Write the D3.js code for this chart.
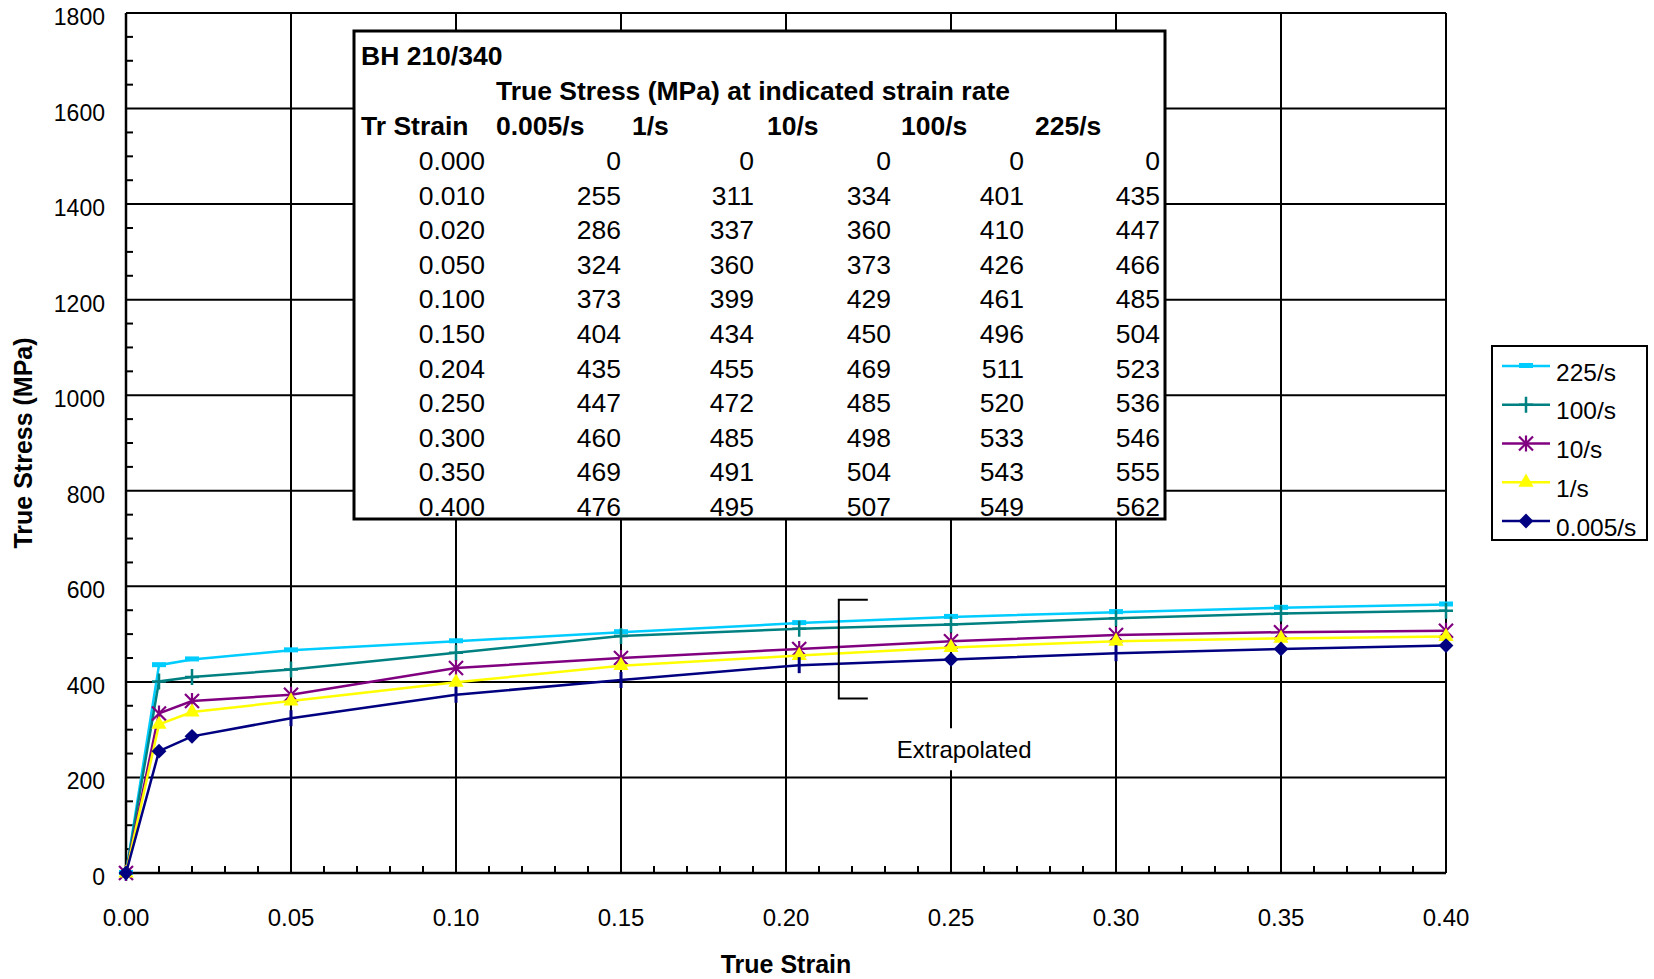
<!DOCTYPE html>
<html>
<head>
<meta charset="utf-8">
<script src="https://cdn.jsdelivr.net/npm/d3@7"></script>
<style>
  body { margin: 0; background: #fff; }
  svg { display: block; font-family: "Liberation Sans", Arial, sans-serif; }
</style>
</head>
<body>
<svg width="1654" height="979"></svg>
<script>
const strains = [0, 0.01, 0.02, 0.05, 0.1, 0.15, 0.204, 0.25, 0.3, 0.35, 0.4];
const rate0005 = [0, 255, 286, 324, 373, 404, 435, 447, 460, 469, 476];
const rate1 = [0, 311, 337, 360, 399, 434, 455, 472, 485, 491, 495];
const rate10 = [0, 334, 360, 373, 429, 450, 469, 485, 498, 504, 507];
const rate100 = [0, 401, 410, 426, 461, 496, 511, 520, 533, 543, 549];
const rate225 = [0, 435, 447, 466, 485, 504, 523, 536, 546, 555, 562];
const rateLabels = ["0.005/s", "1/s", "10/s", "100/s", "225/s"];
const xTicks = [0, 0.05, 0.1, 0.15, 0.2, 0.25, 0.3, 0.35, 0.4];
const yTicks = [0, 200, 400, 600, 800, 1000, 1200, 1400, 1600, 1800];
const tableTitle = "BH 210/340";
const tableSubtitle = "True Stress (MPa) at indicated strain rate";
const extrapolated = { strain: 0.216, low: 365, high: 572, label: "Extrapolated", labelStrain: 0.254, labelStress: 259 };

const svg = d3.select("svg");
const plotLeft = 126, plotRight = 1446, plotTop = 13, plotBottom = 873;

const x = d3.scaleLinear().domain([0, 0.4]).range([plotLeft, plotRight]);
const y = d3.scaleLinear().domain([0, 1800]).range([plotBottom, plotTop]);

// grid
svg.append("g").selectAll("line").data(yTicks.slice(1)).enter().append("line")
  .attr("x1", plotLeft).attr("x2", plotRight)
  .attr("y1", d => y(d)).attr("y2", d => y(d))
  .attr("stroke", "#000").attr("stroke-width", 2);
svg.append("g").selectAll("line").data(xTicks.slice(1)).enter().append("line")
  .attr("x1", d => x(d)).attr("x2", d => x(d))
  .attr("y1", plotTop).attr("y2", plotBottom)
  .attr("stroke", "#000").attr("stroke-width", 2);

// minor ticks
let yMinor = d3.range(50, 1800, 50).filter(v => v % 200 !== 0);
svg.append("g").selectAll("line").data(yMinor).enter().append("line")
  .attr("x1", plotLeft).attr("x2", plotLeft + 7)
  .attr("y1", d => y(d)).attr("y2", d => y(d))
  .attr("stroke", "#000").attr("stroke-width", 2);
let xMinor = d3.range(1, 40).filter(i => i % 5 !== 0).map(i => i / 100);
svg.append("g").selectAll("line").data(xMinor).enter().append("line")
  .attr("x1", d => x(d)).attr("x2", d => x(d))
  .attr("y1", plotBottom).attr("y2", plotBottom - 7)
  .attr("stroke", "#000").attr("stroke-width", 2);

// axis lines
svg.append("line").attr("x1", plotLeft).attr("x2", plotLeft).attr("y1", plotTop).attr("y2", plotBottom)
  .attr("stroke", "#000").attr("stroke-width", 2.5);
svg.append("line").attr("x1", plotLeft).attr("x2", plotRight).attr("y1", plotBottom).attr("y2", plotBottom)
  .attr("stroke", "#000").attr("stroke-width", 2.5);

// tick labels
svg.append("g").selectAll("text").data(yTicks).enter().append("text")
  .attr("x", 105).attr("y", d => y(d) + 4)
  .attr("text-anchor", "end").attr("dominant-baseline", "central")
  .attr("font-size", 23).text(d => d);
svg.append("g").selectAll("text").data(xTicks).enter().append("text")
  .attr("x", d => x(d)).attr("y", 917)
  .attr("text-anchor", "middle").attr("dominant-baseline", "central")
  .attr("font-size", 24).text(d3.format(".2f"));

// axis titles
svg.append("text").attr("x", (plotLeft + plotRight) / 2).attr("y", 964)
  .attr("text-anchor", "middle").attr("dominant-baseline", "central")
  .attr("font-size", 25).attr("font-weight", "bold").text("True Strain");
svg.append("text").attr("transform", `translate(23,${(plotTop + plotBottom) / 2}) rotate(-90)`)
  .attr("text-anchor", "middle").attr("dominant-baseline", "central")
  .attr("font-size", 25).attr("font-weight", "bold").text("True Stress (MPa)");

// series, drawn so the slowest rate ends up on top
const series = [
  { label: "225/s", values: rate225, color: "#00ccff", marker: "dash" },
  { label: "100/s", values: rate100, color: "#008080", marker: "plus" },
  { label: "10/s", values: rate10, color: "#800080", marker: "star" },
  { label: "1/s", values: rate1, color: "#ffff00", marker: "triangle" },
  { label: "0.005/s", values: rate0005, color: "#000080", marker: "diamond" }
];

// on some points the navy series shows only a bar instead of a diamond
const navyBars = new Set([3, 4, 5, 6, 8]);

function drawMarker(g, type, color, cx, cy) {
  if (type === "dash") {
    g.append("rect").attr("x", cx - 7).attr("y", cy - 3).attr("width", 14).attr("height", 5).attr("fill", color);
  } else if (type === "plus") {
    g.append("path").attr("d", `M${cx - 7},${cy}H${cx + 7}M${cx},${cy - 8}V${cy + 8}`)
      .attr("stroke", color).attr("stroke-width", 2.5);
  } else if (type === "star") {
    g.append("path").attr("d", `M${cx - 7},${cy - 7}L${cx + 7},${cy + 7}M${cx - 7},${cy + 7}L${cx + 7},${cy - 7}M${cx},${cy - 8}V${cy + 8}`)
      .attr("stroke", color).attr("stroke-width", 2.2);
  } else if (type === "triangle") {
    g.append("path").attr("d", d3.symbol().type(d3.symbolTriangle).size(100)())
      .attr("transform", `translate(${cx},${cy})`).attr("fill", color);
  } else if (type === "diamond") {
    g.append("path").attr("d", d3.symbol().type(d3.symbolSquare).size(110)())
      .attr("transform", `translate(${cx},${cy}) rotate(45)`).attr("fill", color);
  } else if (type === "bar") {
    g.append("path").attr("d", `M${cx},${cy - 8}V${cy + 8}`)
      .attr("stroke", color).attr("stroke-width", 3);
  }
}

let line = d3.line().x((d, i) => x(strains[i])).y(d => y(d));

series.forEach(s => {
  let g = svg.append("g");
  g.append("path").datum(s.values).attr("d", line)
    .attr("fill", "none").attr("stroke", s.color).attr("stroke-width", 2.5);
  s.values.forEach((v, i) => {
    let type = s.marker;
    if (type === "diamond" && navyBars.has(i)) type = "bar";
    drawMarker(g, type, s.color, x(strains[i]), y(v));
  });
});

// extrapolated bracket and label
let bx = x(extrapolated.strain);
svg.append("path")
  .attr("d", `M${bx + 29},${y(extrapolated.high)}H${bx}V${y(extrapolated.low)}H${bx + 29}`)
  .attr("fill", "none").attr("stroke", "#000").attr("stroke-width", 2);
let lx = x(extrapolated.labelStrain), ly = y(extrapolated.labelStress);
svg.append("rect").attr("x", lx - 74).attr("y", ly - 21).attr("width", 148).attr("height", 42).attr("fill", "#fff");
svg.append("text").attr("x", lx).attr("y", ly)
  .attr("text-anchor", "middle").attr("dominant-baseline", "central")
  .attr("font-size", 24).text(extrapolated.label);

// data table box
const tbl = svg.append("g");
tbl.append("rect").attr("x", 354).attr("y", 31).attr("width", 811).attr("height", 488)
  .attr("fill", "#fff");
tbl.append("text").attr("x", 361).attr("y", 56).attr("dominant-baseline", "central")
  .attr("font-size", 26.5).attr("font-weight", "bold").text(tableTitle);
tbl.append("text").attr("x", 496).attr("y", 90.5).attr("dominant-baseline", "central")
  .attr("font-size", 26.5).attr("font-weight", "bold").text(tableSubtitle);

const headerX = [361, 496, 632, 767, 901, 1035];
tbl.selectAll("text.hdr").data(["Tr Strain"].concat(rateLabels)).enter().append("text")
  .attr("class", "hdr").attr("x", (d, i) => headerX[i]).attr("y", 126)
  .attr("dominant-baseline", "central")
  .attr("font-size", 26.5).attr("font-weight", "bold").text(d => d);

const rowY = d3.scalePoint().domain(d3.range(strains.length)).range([161, 507]);
const colX = [485, 621, 754, 891, 1024, 1160];
const columns = [strains.map(d3.format(".3f")), rate0005, rate1, rate10, rate100, rate225];
columns.forEach((col, c) => {
  tbl.append("g").selectAll("text").data(col).enter().append("text")
    .attr("x", colX[c]).attr("y", (d, i) => rowY(i))
    .attr("text-anchor", "end").attr("dominant-baseline", "central")
    .attr("font-size", 26.5).text(d => d);
});
tbl.append("rect").attr("x", 354).attr("y", 31).attr("width", 811).attr("height", 488)
  .attr("fill", "none").attr("stroke", "#000").attr("stroke-width", 3);

// legend
const leg = svg.append("g");
leg.append("rect").attr("x", 1492).attr("y", 346).attr("width", 155).attr("height", 194)
  .attr("fill", "#fff").attr("stroke", "#000").attr("stroke-width", 2);
const legY = d3.scalePoint().domain(series.map(s => s.label)).range([366, 521]);
series.forEach(s => {
  let ry = legY(s.label);
  leg.append("line").attr("x1", 1502).attr("x2", 1550).attr("y1", ry).attr("y2", ry)
    .attr("stroke", s.color).attr("stroke-width", 2.5);
  drawMarker(leg, s.marker, s.color, 1526, ry);
  leg.append("text").attr("x", 1556).attr("y", ry + 6).attr("dominant-baseline", "central")
    .attr("font-size", 24.5).text(s.label);
});
</script>
</body>
</html>
